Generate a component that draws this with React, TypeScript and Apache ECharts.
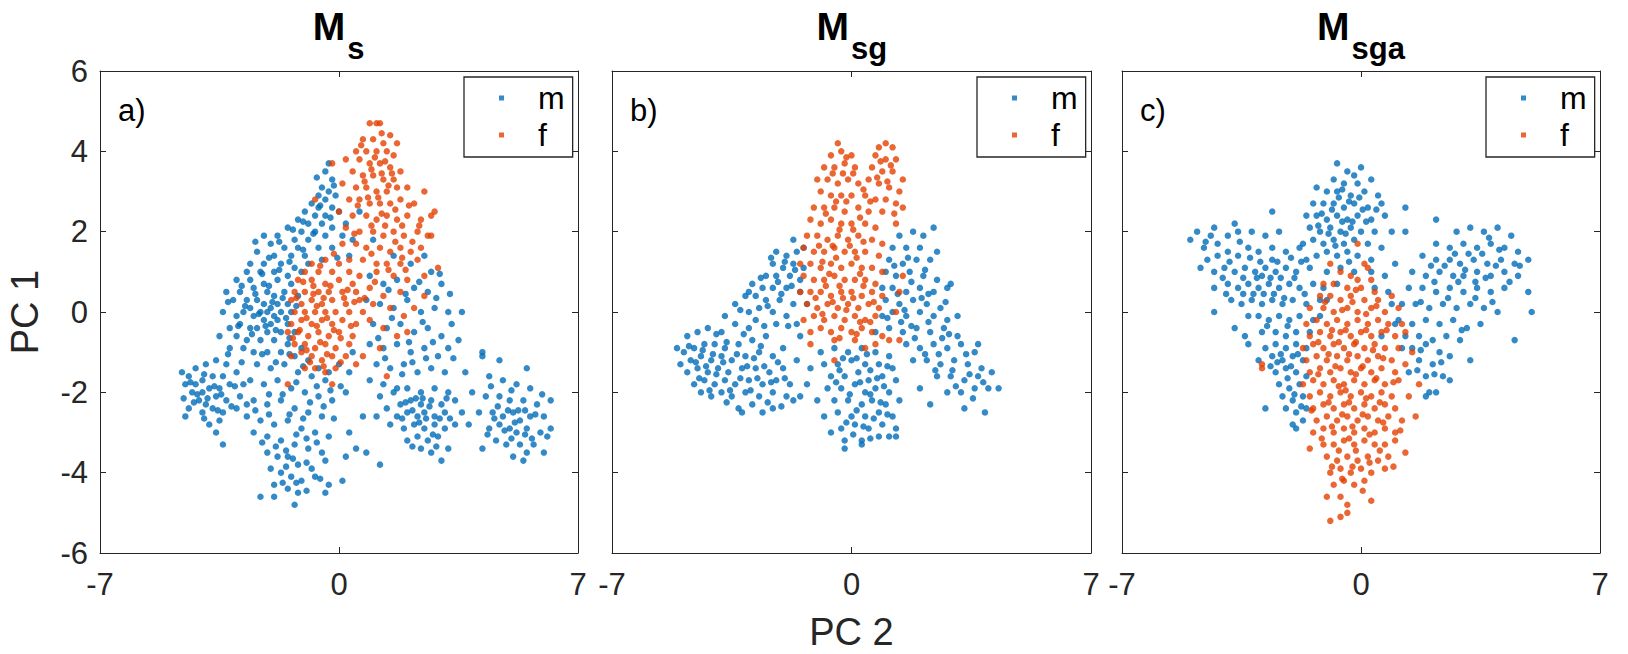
import React, { useEffect, useRef } from "react";
import * as echarts from "echarts";

// ---------- DATA (PC 2 = x, PC 1 = y), flat [x, y, x, y, ...] ----------
const xTicks = [-7, 0, 7];
const yTicks = [-6, -4, -2, 0, 2, 4, 6];
const titles = ["s", "sg", "sga"];
const panelLabels = ["a)", "b)", "c)"];
const legendNames = ["m", "f"];

// Panel a (M_s) – males
const msBlueUpper = [
  -0.3,3.7, -0.4,3.5, -0.2,3.3, -0.5,3.1, -0.3,3.0, -0.6,2.9, -0.4,2.8, -0.1,2.9, -0.8,2.7, -0.6,2.6,
  -0.2,2.6, -1.0,2.5, -0.7,2.4, -0.4,2.4, 0.0,2.5, -1.2,2.3, -0.9,2.2, -0.5,2.2, -0.2,2.1, 0.2,2.2,
  -1.5,2.1, -1.1,2.0, -0.7,2.0, -2.2,1.9, -1.8,1.9, -1.3,1.8, -0.9,1.8, -0.4,1.9, 0.1,1.9, 0.4,1.8,
  -2.0,1.7, -1.6,1.6, -1.2,1.6, -0.6,1.6, -0.2,1.6, -2.4,1.5, -1.9,1.4, -1.4,1.4, -1.0,1.4, -0.5,1.3,
  0.3,1.4, -2.6,1.2, -2.2,1.2, -1.7,1.2, -1.3,1.1, -0.9,1.2, -2.7,1.0, -2.3,1.0, -1.9,1.0, -1.5,0.9, -1.1,1.0,
];
const msBlueCoreLeft = [
  -3.0,0.8, -2.6,0.8, -2.2,0.7, -1.8,0.8, -1.4,0.7, -3.3,0.5, -2.9,0.5, -2.5,0.6, -2.1,0.5, -1.9,0.4,
  -1.6,0.5, -1.2,0.4, -3.1,0.3, -2.7,0.3, -2.4,0.3, -2.2,0.2, -2.0,0.1, -1.8,0.2, -1.5,0.2, -2.6,0.1,
  -2.3,0.0, -2.1,0.0, -1.9,-0.1, -1.7,0.0, -1.4,0.0, -3.4,0.0, -3.0,-0.1, -2.8,0.0, -2.5,-0.1, -2.2,-0.2,
  -2.0,-0.3, -1.8,-0.2, -1.5,-0.3, -3.2,-0.4, -2.9,-0.3, -2.6,-0.4, -2.4,-0.4, -2.1,-0.5, -1.7,-0.5, -1.3,-0.5,
  -3.5,-0.6, -3.0,-0.6, -2.7,-0.7, -2.3,-0.7, -1.9,-0.7, -1.5,-0.8, -1.1,-0.9, -3.2,-0.9, -2.8,-0.9, -2.5,-1.0,
  -2.1,-1.0, -1.7,-1.0, -1.3,-1.1, -0.9,-1.2, -0.6,-1.4, -0.3,-1.5, 0.0,-1.3, 0.3,-1.5, 0.4,-1.0,
];
const msBlueLowerLeft = [
  -4.6,-1.5, -4.4,-1.6, -4.2,-1.4, -3.9,-1.3, -3.6,-1.2, -3.3,-1.3, -4.5,-1.8, -4.2,-1.8, -4.0,-1.7, -3.7,-1.6,
  -3.4,-1.6, -3.0,-1.5, -4.3,-2.0, -4.0,-2.0, -3.8,-1.9, -3.5,-1.9, -3.2,-1.8, -2.8,-1.8, -4.1,-2.2, -3.9,-2.3,
  -3.6,-2.1, -3.3,-2.2, -2.9,-2.1, -4.4,-2.4, -4.0,-2.5, -3.7,-2.4, -3.4,-2.5, -3.0,-2.4, -4.5,-2.6, -3.8,-2.8,
  -3.5,-2.7, -3.6,-3.0, -3.4,-3.3, -2.7,-2.3,
];
const msBlueLowerMid = [
  -2.4,-1.3, -2.0,-1.4, -1.6,-1.3, -1.2,-1.5, -0.8,-1.6, -0.4,-1.7, -2.6,-1.7, -2.2,-1.8, -1.8,-1.7, -1.4,-1.9,
  -1.0,-2.0, -0.6,-2.1, -0.2,-2.2, 0.2,-2.0, -2.5,-2.2, -2.1,-2.3, -1.7,-2.2, -1.3,-2.4, -0.9,-2.5, -0.5,-2.6,
  -2.7,-2.6, -2.3,-2.7, -1.9,-2.8, -1.5,-2.7, -1.1,-2.9, -0.7,-3.0, -0.3,-3.1, 0.3,-3.0, -2.5,-3.0, -2.1,-3.1,
  -1.7,-3.2, -1.3,-3.3, -0.9,-3.4, -0.5,-3.5, -2.1,-3.5, -1.8,-3.6, -1.5,-3.6, -1.2,-3.8, -0.8,-3.9, -0.4,-3.7,
  0.2,-3.6, -2.0,-3.9, -1.7,-4.0, -1.4,-4.1, -1.1,-4.2, -0.7,-4.1, -1.9,-4.3, -1.5,-4.4, -1.2,-4.5, -0.4,-4.5,
  -2.3,-4.6, -1.9,-4.6, -1.3,-4.8, 0.1,-4.2, -0.3,-4.3, 0.5,-3.4, 0.7,-2.6,
];
const msBlueRightBand = [
  0.6,2.5, 1.0,1.8, 1.6,1.4, 2.1,1.2, 2.5,1.4, 2.7,1.0, 0.9,0.9, 1.3,0.7, 1.7,0.8, 2.2,0.6,
  2.6,0.5, 3.0,0.7, 0.8,0.3, 1.2,0.2, 1.6,0.1, 2.0,0.3, 2.4,0.0, 2.8,0.1, 3.2,0.0, 3.6,0.0,
  1.0,-0.3, 1.4,-0.4, 1.8,-0.3, 2.2,-0.5, 2.6,-0.4, 3.0,-0.6, 3.3,-0.3, 0.9,-0.8, 1.3,-0.9, 1.7,-0.8,
  2.1,-1.0, 2.5,-0.9, 2.9,-1.1, 3.2,-0.9, 1.1,-1.3, 1.5,-1.4, 1.9,-1.3, 2.3,-1.5, 2.7,-1.4, 3.1,-1.5,
  1.3,-1.8, 1.7,-1.9, 0.9,-1.7, 4.2,-1.0, 3.5,-0.7,
];
const msBlueRight1 = [
  1.2,-2.1, 1.6,-2.0, 2.0,-1.9, 2.4,-2.0, 2.8,-1.9, 3.2,-2.0, 1.4,-2.4, 1.8,-2.3, 2.1,-2.2, 2.4,-2.3,
  2.7,-2.2, 3.0,-2.3, 3.4,-2.2, 1.7,-2.6, 2.0,-2.5, 2.3,-2.6, 2.5,-2.5, 2.8,-2.6, 3.1,-2.5, 3.6,-2.5,
  1.9,-2.9, 2.2,-2.8, 2.5,-2.9, 2.8,-2.8, 3.1,-2.9, 3.4,-2.8, 2.0,-3.2, 2.3,-3.1, 2.6,-3.2, 2.9,-3.1,
  2.4,-3.4, 2.7,-3.5, 3.2,-3.4, 1.5,-2.8, 1.1,-2.6, 0.8,-3.5, 1.2,-3.8, 3.0,-3.7,
];
const msBlueRight2 = [
  4.2,-1.1, 3.7,-1.5, 4.4,-1.6, 4.8,-1.7, 5.2,-1.8, 5.6,-1.9, 3.9,-2.0, 4.3,-2.1, 4.7,-2.1, 5.0,-2.2,
  5.4,-2.2, 5.8,-2.3, 6.2,-2.2, 4.1,-2.5, 4.5,-2.5, 4.8,-2.6, 5.1,-2.5, 5.3,-2.7, 5.6,-2.6, 6.0,-2.6,
  4.4,-2.9, 4.7,-2.8, 5.0,-2.9, 5.2,-3.0, 5.5,-2.9, 5.9,-3.0, 4.6,-3.2, 4.9,-3.3, 5.3,-3.3, 5.7,-3.3,
  5.1,-3.6, 5.5,-3.5, 6.1,-3.1, 4.2,-3.4, 3.8,-2.8, 4.7,-1.2, 5.5,-1.4, 6.2,-2.9, 5.4,-3.7, 6.0,-3.5,
];
const msBlueFill = [
  -2.85,0.65, -2.45,0.45, -2.05,0.65, -1.65,0.35, -1.25,0.15, -2.75,0.15, -2.35,-0.05, -1.95,0.25, -1.55,-0.15, -2.15,-0.35,
  -1.85,-0.45, -2.55,-0.55, -1.45,-0.65, -2.95,-0.35, -3.25,0.25, -2.25,0.95, -1.75,1.05, -2.05,1.35, -1.45,1.25, -1.05,1.55,
  -0.75,1.95, -1.05,2.25, -0.55,2.65, -1.75,1.75, -2.45,1.75, -1.35,2.05, -0.25,2.35, -0.15,3.15, -0.65,3.35, -0.05,1.35,
  -2.25,-1.05, -1.85,-1.25, -1.45,-1.05, -1.05,-1.35, -0.65,-1.85, -1.25,-1.75, -1.65,-2.05, -2.05,-2.05, -0.85,-2.25, -1.45,-2.55,
  -2.45,-2.45, -1.05,-2.65, -2.05,-2.55, -1.25,-3.05, -0.95,-3.15, -1.55,-3.45, -0.65,-3.25, -1.85,-3.35, -1.35,-3.65, -0.95,-3.75,
  -1.55,-3.85, -1.25,-4.25, -0.95,-4.45, -1.65,-4.25, -0.15,-2.65, 0.05,-1.85, -0.25,-1.95, -0.45,-2.35, -2.25,-3.25, -0.55,-4.15,
  -4.35,-1.75, -3.95,-1.55, -3.65,-1.85, -3.85,-2.15, -4.15,-2.05, -3.45,-2.05, -3.15,-2.35, -3.95,-2.65, -4.25,-2.25, -3.55,-2.45,
  -3.05,-1.85, -4.55,-2.15, -3.25,-1.05, -2.85,-1.25,
  1.45,0.55, 1.95,0.45, 2.35,0.75, 2.85,0.35, 1.15,-0.65, 1.55,-0.15, 2.05,-0.75, 2.45,-0.25, 2.75,-0.75, 1.35,-1.15,
  2.15,-1.25, 2.55,-1.15, 3.35,-1.15, 1.85,-1.55, 2.95,0.95, 3.25,0.45,
  2.15,-2.45, 2.35,-2.75, 2.65,-2.35, 2.55,-2.65, 2.95,-2.65, 2.25,-2.15, 1.85,-2.65, 2.75,-3.05, 2.15,-3.35, 3.25,-2.65,
  2.45,-2.15, 1.95,-2.25, 3.15,-2.15, 2.85,-3.35,
  4.95,-2.45, 5.25,-2.45, 4.65,-2.35, 5.45,-2.45, 5.15,-2.75, 4.85,-2.95, 5.45,-3.05, 5.05,-3.15, 4.55,-2.65, 5.75,-2.55,
  5.05,-1.95, 4.45,-1.85, 5.95,-2.05, 5.65,-3.15, 4.35,-3.05,
];
// Panel a (M_s) – females
const msOrangeUpper = [
  0.9,4.7, 1.1,4.7, 1.2,4.7, 1.5,4.4, 1.7,4.2, 0.7,4.3, 1.0,4.3, 1.3,4.2, 0.5,4.0, 0.8,4.0,
  1.1,4.0, 1.4,4.0, 1.6,3.9, 0.2,3.8, 0.6,3.8, 0.9,3.7, 1.2,3.7, 1.5,3.6, 1.8,3.5, 0.4,3.5,
  0.7,3.4, 1.0,3.4, 1.3,3.3, 1.6,3.3, 0.1,3.2, 0.5,3.1, 0.8,3.1, 1.1,3.0, 1.4,3.0, 1.7,3.1,
  2.0,3.1, 2.5,3.0, 0.3,2.8, 0.6,2.8, 0.9,2.7, 1.2,2.7, 1.5,2.7, 1.8,2.8, 2.2,2.7, -0.2,3.7,
  -0.7,2.8, 0.0,2.5, 0.4,2.4, 0.8,2.4, 1.1,2.3, 1.4,2.4, 1.7,2.3, 2.0,2.4, 2.4,2.3, 2.7,2.4,
  0.2,2.1, 0.6,2.0, 1.0,2.0, 1.3,1.9, 1.6,2.0, 1.9,1.9, 2.3,2.0, 2.6,1.9, 0.1,1.7, 0.5,1.7,
  0.8,1.6, 1.2,1.6, 1.5,1.5, 1.8,1.6, 2.1,1.5, 2.4,1.6, 0.3,1.3, 0.7,1.3, 1.1,1.2, 1.4,1.2,
  1.8,1.2, 2.3,1.3, 2.7,1.9, 2.8,2.5,
];
const msOrangeCore = [
  -0.8,1.2, -0.4,1.3, 0.0,1.2, -1.0,1.0, -0.6,1.0, -0.2,1.0, 0.3,1.0, 0.6,0.9, -1.2,0.8, -0.8,0.8,
  -0.4,0.7, 0.0,0.8, 0.4,0.7, -1.3,0.5, -1.0,0.5, -0.6,0.5, -0.3,0.5, 0.1,0.5, 0.5,0.5, -1.4,0.3,
  -1.1,0.2, -0.8,0.3, -0.5,0.2, -0.2,0.3, 0.2,0.2, 0.6,0.3, -1.3,0.0, -1.0,0.0, -0.7,0.0, -0.4,0.0,
  -0.1,0.0, 0.3,0.0, 0.7,0.0, -1.4,-0.3, -1.1,-0.2, -0.8,-0.3, -0.5,-0.2, -0.2,-0.3, 0.1,-0.2, 0.5,-0.3,
  -1.5,-0.5, -1.2,-0.5, -0.9,-0.6, -0.6,-0.5, -0.3,-0.6, 0.0,-0.5, 0.4,-0.6, -1.3,-0.8, -1.0,-0.8, -0.7,-0.9,
  -0.4,-0.8, -0.1,-0.9, 0.3,-0.8, -1.4,-1.1, -1.1,-1.0, -0.8,-1.1, -0.5,-1.2, -0.2,-1.1, 0.2,-1.1, -1.0,-1.4,
  -0.7,-1.4, -0.4,-1.5, -0.1,-1.4, -1.5,-1.8, -0.2,-1.8, 0.5,-1.3,
];
const msOrangeScatter = [
  0.9,0.6, 1.3,0.4, 1.1,1.0, 1.6,0.9, 2.0,0.8, 2.5,0.9, 1.0,0.2, 1.5,0.1, 1.9,-0.1, 2.2,0.1,
  0.9,-0.2, 1.3,-0.4, 1.7,-0.6, 2.0,-0.5, 1.2,-0.9, 0.7,-1.1, 2.5,0.4, 1.8,0.5, 2.9,1.1, 1.4,-1.6,
];
const msOrangeFill = [
  -0.65,0.15, -0.35,-0.15, -0.95,-0.15, -0.25,0.65, -0.75,0.65, -1.15,-0.45, -0.55,-0.75, -0.85,-1.25, -0.35,-1.05, 0.05,-0.65,
  0.15,0.35, -1.25,0.35, -0.45,0.35, -0.15,-0.45, -0.65,-0.35, 0.35,-0.35, -1.05,0.75, -0.55,1.15, -0.15,1.45, 0.25,0.55,
  -1.35,-0.65, -0.95,-0.95, 0.05,-1.25, -0.45,-1.35, -0.75,0.45, 0.45,0.25,
  0.95,3.55, 1.25,3.45, 1.05,3.85, 1.35,3.75, 0.75,3.25, 1.45,3.15, 1.15,2.85, 1.65,2.55, 1.35,2.15, 1.85,2.15,
  0.95,2.15, 2.15,1.75, 1.65,1.75, 2.05,2.65, 0.55,2.65, 1.25,2.45, 0.85,2.85, 1.55,3.45, 1.85,1.35, 0.45,1.95,
  2.35,2.15, 0.95,1.45, 1.45,1.05, 0.65,4.15, 1.25,4.45, 1.95,1.05, 0.75,0.35, 1.05,0.75,
];

// Panel b (M_sg) – males
const msgBlueLeft = [
  -5.1,-0.9, -4.8,-0.6, -4.5,-0.5, -4.2,-0.4, -3.8,-0.5, -3.4,-0.3, -3.0,-0.4, -4.9,-1.0, -4.6,-0.9, -4.3,-0.8,
  -4.0,-0.8, -3.7,-0.9, -3.3,-0.8, -2.9,-0.7, -2.5,-0.6, -5.0,-1.3, -4.7,-1.2, -4.4,-1.1, -4.1,-1.2, -3.8,-1.1,
  -3.5,-1.2, -3.1,-1.1, -2.7,-1.0, -2.3,-1.1, -4.8,-1.5, -4.5,-1.4, -4.2,-1.5, -3.9,-1.4, -3.6,-1.5, -3.2,-1.4,
  -2.8,-1.4, -2.4,-1.5, -2.0,-1.4, -4.6,-1.8, -4.3,-1.7, -4.0,-1.8, -3.7,-1.7, -3.4,-1.8, -3.0,-1.7, -2.6,-1.8,
  -2.2,-1.7, -1.8,-1.8, -4.1,-2.1, -3.8,-2.0, -3.5,-2.1, -3.1,-2.0, -2.7,-2.1, -2.3,-2.0, -1.9,-2.1, -3.3,-2.4,
  -2.9,-2.3, -2.6,-2.5, -2.3,-2.4, -3.2,-2.5, -1.7,-2.2, -4.4,-2.0, -2.0,-0.9, -1.6,-1.2, -1.5,-2.1,
];
const msgBlueArm = [
  -3.4,0.2, -3.0,0.0, -2.7,0.1, -2.3,0.0, -1.9,-0.1, -1.6,-0.3, -3.1,0.4, -2.8,0.4, -2.5,0.3, -2.1,0.3,
  -1.7,0.2, -2.9,0.7, -2.6,0.6, -2.3,0.6, -1.9,0.6, -1.5,0.5, -2.5,0.9, -2.2,0.9, -1.8,0.9, -1.5,0.8,
  -2.3,1.2, -2.0,1.1, -1.7,1.2, -1.4,1.1, -2.2,1.5, -1.9,1.4, -1.6,1.5, -1.4,1.6, -1.7,1.8, -2.2,-0.3,
  -1.5,-0.6, -2.8,-0.2, -3.7,-0.1, -1.3,0.2, -3.0,0.5,
];
const msgBlueCenter = [
  -0.9,-1.0, -0.5,-0.9, -0.1,-1.0, 0.3,-0.9, 0.7,-1.0, 1.1,-1.1, -0.8,-1.3, -0.4,-1.3, 0.0,-1.2, 0.4,-1.3,
  0.8,-1.3, 1.2,-1.4, -0.6,-1.6, -0.2,-1.6, 0.2,-1.5, 0.5,-1.7, 0.9,-1.6, 1.3,-1.7, -0.7,-1.9, -0.3,-1.9,
  0.1,-1.8, 0.4,-2.0, 0.7,-1.9, 1.1,-2.0, -0.5,-2.2, -0.1,-2.2, 0.3,-2.3, 0.6,-2.2, 1.0,-2.3, 1.4,-2.2,
  -0.4,-2.5, 0.0,-2.6, 0.4,-2.6, 0.8,-2.5, 1.2,-2.6, -0.3,-2.9, 0.1,-2.8, 0.5,-2.9, 0.9,-2.8, 1.3,-2.9,
  -0.2,-3.2, 0.3,-3.2, 0.8,-3.1, -0.2,-3.4, 0.3,-3.3, 1.3,-3.1, -1.2,-1.4, -1.0,-2.2, -0.8,-2.6, -1.3,-1.8,
  -0.6,-3.0, 1.1,-3.1,
];
const msgBlueRight = [
  1.4,1.9, 1.8,2.0, 2.1,1.9, 2.4,2.1, 2.5,1.5, 1.2,1.6, 1.6,1.6, 2.0,1.6, 2.3,1.3, 1.1,1.3,
  1.5,1.2, 1.9,1.3, 1.0,1.0, 1.3,0.9, 1.7,1.0, 2.1,0.9, 2.5,0.8, 0.9,0.6, 1.2,0.6, 1.6,0.5,
  2.0,0.6, 2.4,0.5, 2.8,0.6, 1.0,0.3, 1.4,0.2, 1.8,0.3, 2.2,0.2, 2.6,0.1, 0.9,-0.1, 1.2,0.0,
  1.6,-0.1, 2.0,0.0, 2.4,-0.1, 2.8,-0.2, 3.1,-0.1, 0.7,-0.5, 1.1,-0.4, 1.5,-0.5, 1.9,-0.4, 2.3,-0.5,
  2.7,-0.4, 3.1,-0.6, 1.6,-0.8, 2.0,-0.9, 2.4,-0.8, 2.8,-0.9, 3.2,-0.8, 3.6,-1.0, 1.8,-1.2, 2.2,-1.2,
  2.6,-1.3, 3.0,-1.2, 3.4,-1.3, 3.8,-1.4, 2.5,-1.6, 2.9,-1.6, 3.3,-1.7, 3.7,-1.6, 4.1,-1.5, 2.8,-2.0,
  3.2,-2.0, 3.6,-1.9, 4.0,-1.9, 4.3,-1.9, 3.3,-2.4, 3.9,-2.5, 2.3,-2.3, 2.0,-1.9, 2.9,0.7, 3.7,-0.8,
];
const msgBlueFill = [
  -4.35,-0.95, -4.05,-1.05, -3.75,-1.25, -4.25,-1.35, -3.95,-1.55, -4.55,-1.25, -3.65,-0.75, -3.35,-1.05, -3.05,-1.35, -4.45,-1.65,
  -3.55,-1.95, -4.15,-1.95, -2.85,-1.15, -2.55,-1.35, -3.25,-1.65, -2.75,-1.65, -2.35,-1.75, -4.75,-0.85, -3.95,-0.55, -3.15,-0.55,
  -2.65,-0.85, -2.15,-1.25, -1.95,-1.65, -2.95,-1.95, -2.45,-2.25, -3.65,-2.25, -2.05,-2.35,
  -2.65,0.85, -2.05,0.45, -1.75,0.65, -2.45,0.15, -2.15,0.75, -1.95,1.25, -1.85,-0.35, -2.55,-0.35, -3.25,0.05, -1.65,1.05,
  -2.35,1.35,
  0.15,-1.15, 0.55,-1.45, -0.35,-1.45, 0.25,-1.75, 0.75,-1.65, -0.05,-2.05, 0.55,-2.05, 0.15,-2.45, 0.85,-2.25, -0.15,-2.75,
  0.35,-2.85, 0.65,-2.65, 1.05,-2.55, 0.05,-3.05, 0.55,-3.15, -0.45,-1.75, 1.05,-1.35, 0.95,-1.85, -0.25,-1.15, 0.45,-1.05,
  1.45,-0.25, 1.85,-0.65, 2.25,-0.25, 2.65,-0.65, 2.15,-1.05, 2.55,-1.05, 2.95,-1.45, 3.45,-1.55, 1.35,0.45, 1.75,0.75,
  2.25,0.45, 1.55,0.05, 2.05,0.35, 2.85,-0.55, 3.35,-1.05, 3.85,-1.75, 3.05,-1.85, 3.55,-2.15, 1.65,1.35, 2.15,1.05,
  1.25,1.15, 1.75,-0.35, 2.45,-1.45, 2.75,0.25, 1.05,-0.15,
];
// Panel b (M_sg) – females
const msgOrangeUpper = [
  -0.4,4.2, 1.0,4.2, 1.2,4.1, 0.8,4.1, -0.6,3.9, -0.3,4.0, 0.0,3.9, 0.7,3.9, 1.0,3.8, 1.3,3.8,
  -0.8,3.6, -0.5,3.6, -0.2,3.7, 0.1,3.6, 0.6,3.6, 0.9,3.5, 1.2,3.5, 1.5,3.3, -1.0,3.3, -0.7,3.3,
  -0.4,3.2, -0.1,3.3, 0.2,3.2, 0.5,3.3, 0.8,3.2, 1.1,3.1, 1.4,3.0, -0.9,3.0, -0.6,2.9, -0.3,2.9,
  0.0,2.9, 0.4,2.9, 0.7,2.8, 1.0,2.8, 1.3,2.7, -1.1,2.6, -0.8,2.6, -0.5,2.6, -0.2,2.5, 0.2,2.6,
  0.5,2.5, 0.9,2.5, 1.5,2.6, -1.2,2.3, -0.9,2.2, -0.6,2.3, -0.3,2.2, 0.0,2.2, 0.4,2.2, 0.7,2.1,
  1.3,2.2, -1.3,1.9, -1.0,1.9, -0.7,1.8, -0.4,1.9, -0.1,1.8, 0.2,1.9, 0.6,1.8, 0.9,1.7,
];
const msgOrangeLower = [
  -1.4,1.6, -1.1,1.5, -0.8,1.5, -0.5,1.6, -0.2,1.5, 0.1,1.5, 0.4,1.5, 0.8,1.4, -1.5,1.2, -1.2,1.2,
  -0.9,1.1, -0.6,1.2, -0.3,1.1, 0.0,1.2, 0.3,1.1, 0.6,1.1, 0.9,1.0, -1.4,0.9, -1.1,0.8, -0.8,0.8,
  -0.5,0.9, -0.2,0.8, 0.1,0.8, 0.4,0.8, 0.7,0.7, -1.5,0.5, -1.2,0.5, -0.9,0.5, -0.6,0.4, -0.3,0.5,
  0.0,0.5, 0.3,0.4, 0.6,0.5, 0.9,0.4, -1.3,0.2, -1.0,0.1, -0.7,0.2, -0.4,0.1, -0.1,0.2, 0.2,0.1,
  0.5,0.2, 0.8,0.1, -1.4,-0.2, -1.1,-0.1, -0.8,-0.2, -0.5,-0.1, -0.2,-0.2, 0.1,-0.1, 0.4,-0.2, 0.7,-0.1,
  -1.2,-0.5, -0.9,-0.4, -0.6,-0.5, -0.3,-0.4, 0.0,-0.5, 0.3,-0.4, 0.6,-0.5, 0.9,-0.6, -1.2,-0.8, -0.5,-0.7,
  0.1,-0.7, 0.4,-0.9, 0.7,-0.8, -0.5,-1.2, 1.4,-0.7, 1.1,-0.7, 1.3,0.0, 1.5,0.9, 1.4,0.5,
];
const msgOrangeFill = [
  -0.55,3.45, -0.25,3.45, 0.05,3.45, 0.85,3.75, 1.15,3.65, 0.35,3.05, -0.45,2.75, -0.15,2.75, 0.25,2.35, 0.55,2.75,
  -0.75,2.45, 0.05,2.05, -0.35,2.05, -0.55,1.65, -0.05,1.65, 0.35,1.75, -0.85,1.25, -0.45,1.35, 0.15,1.35, -0.65,0.95,
  -0.35,0.65, 0.25,0.95, 0.05,0.35, -0.25,0.35, -0.55,0.25, 0.35,0.65, 0.65,0.25, -0.85,-0.05, -0.35,-0.65, 0.25,-0.25,
  -0.15,0.05, -1.05,0.35, -0.75,0.65, 0.15,-0.55, 0.55,-0.25, -0.95,1.65, 0.75,3.35, 1.05,3.25, -0.15,3.85, 1.25,2.45,
];

// Panel c (M_sga) – males
const msgaBlueLeft = [
  -5.0,1.8, -4.8,2.0, -4.6,1.6, -4.4,1.9, -4.2,1.7, -3.9,1.9, -3.6,2.0, -3.2,2.0, -2.8,1.9, -2.4,2.0,
  -4.5,1.3, -4.2,1.4, -3.9,1.5, -3.6,1.4, -3.3,1.6, -3.0,1.5, -2.6,1.6, -2.2,1.5, -1.8,1.6, -4.3,1.0,
  -4.0,1.1, -3.7,1.0, -3.4,1.1, -3.1,1.0, -2.8,1.1, -2.5,1.0, -2.2,1.1, -1.9,1.0, -1.5,1.1, -4.3,0.6,
  -3.9,0.7, -3.6,0.6, -3.3,0.7, -3.0,0.6, -2.7,0.7, -2.4,0.6, -2.1,0.7, -1.8,0.6, -1.4,0.7, -3.8,0.3,
  -3.5,0.2, -3.2,0.3, -2.9,0.2, -2.6,0.3, -2.3,0.2, -2.0,0.3, -1.6,0.2, -1.2,0.3, -4.3,0.0, -3.3,-0.1,
  -3.0,-0.1, -2.7,-0.2, -2.4,-0.1, -2.1,-0.2, -1.8,-0.1, -1.4,-0.2, -3.7,-0.4, -3.4,-0.6, -2.9,-0.5, -2.5,-0.5,
  -2.2,-0.6, -1.9,-0.5, -1.5,-0.5, -2.6,1.3, -2.9,0.9, -4.7,1.1, -3.7,2.2, -4.3,2.1,
];
const msgaBlueTop = [
  -0.7,3.7, 0.0,3.6, -0.4,3.5, -0.2,3.4, -0.8,3.3, -1.3,3.1, -0.5,3.2, -0.1,3.2, 0.3,3.3, -1.0,3.0,
  -0.7,3.0, -0.3,2.9, 0.1,3.0, 0.5,2.9, -1.4,2.7, -1.1,2.7, -0.8,2.7, -0.5,2.6, -0.2,2.7, 0.2,2.6,
  0.6,2.7, -1.6,2.4, -1.3,2.4, -1.0,2.3, -0.7,2.4, -0.4,2.3, -0.1,2.4, 0.3,2.3, 0.7,2.4, 1.3,2.6,
  -1.5,2.1, -1.2,2.0, -0.9,2.1, -0.6,2.0, -0.3,2.1, 0.0,2.0, 0.4,2.0, 0.9,2.0, 1.3,2.0, -1.7,1.7,
  -1.4,1.8, -1.1,1.7, -0.8,1.8, -0.5,1.7, -0.2,1.8, 0.2,1.7, 0.6,1.6, -1.3,1.4, -1.0,1.5, -0.7,1.4,
  -0.4,1.5, -0.1,1.4, 0.3,1.3, 2.2,2.3, -2.6,2.5, -1.6,1.3,
];
const msgaBlueRight = [
  2.8,2.0, 3.2,2.1, 3.6,2.0, 4.0,2.1, 4.4,1.9, 2.2,1.7, 2.6,1.6, 3.0,1.7, 3.4,1.6, 3.8,1.7,
  4.2,1.6, 4.6,1.5, 1.8,1.4, 2.2,1.3, 2.6,1.3, 2.9,1.2, 3.3,1.3, 3.7,1.2, 4.1,1.3, 4.5,1.2,
  4.9,1.3, 1.5,1.0, 1.9,0.9, 2.3,1.0, 2.7,0.9, 3.0,0.9, 3.4,1.0, 3.8,0.9, 4.2,1.0, 4.6,0.9,
  1.4,0.6, 1.8,0.6, 2.2,0.5, 2.6,0.6, 3.0,0.5, 3.4,0.6, 3.8,0.5, 4.2,0.6, 4.9,0.5, 1.2,0.2,
  1.6,0.2, 2.0,0.1, 2.4,0.2, 2.8,0.1, 3.2,0.2, 3.6,0.1, 4.0,0.0, 5.0,0.0, 1.1,-0.2, 1.5,-0.3,
  1.9,-0.2, 2.3,-0.3, 2.7,-0.2, 3.1,-0.4, 3.5,-0.3, 1.3,-0.6, 1.7,-0.6, 2.1,-0.7, 2.5,-0.6, 2.9,-0.7,
  4.5,-0.7, 3.2,-1.2,
];
const msgaBlueBridge = [
  -1.0,1.0, -0.6,1.1, -0.2,1.0, 0.3,1.0, 0.7,0.9, 1.0,1.2, -1.1,0.6, -0.7,0.7, 0.4,0.6, 0.8,0.5,
  -1.0,0.3, 0.9,0.2, -1.2,-0.1, 1.0,-0.3, 0.6,-0.6, 1.2,-0.9,
  -2.8,-0.9, -2.5,-0.8, -2.2,-0.9, -1.9,-0.8, -1.6,-0.9, -2.6,-1.1, -2.3,-1.2, -2.0,-1.1, -1.7,-1.2, -2.5,-1.5,
  -2.2,-1.4, -1.9,-1.5, -1.6,-1.6, -2.4,-1.8, -2.1,-1.9, -1.8,-1.8, -2.3,-2.1, -2.0,-2.2, -1.7,-2.1, -2.2,-2.4,
  -1.9,-2.5, -1.6,-2.4, -2.8,-2.4, -2.0,-2.8, -1.9,-2.9, -1.7,-2.7, -3.0,-1.2, -3.3,-0.8,
  1.5,-0.9, 1.9,-0.8, 2.3,-1.0, 2.6,-1.1, 1.7,-1.2, 2.1,-1.3, 1.9,-1.6, 2.4,-1.6, 2.6,-1.7, 2.0,-2.0,
  2.2,-2.0, 1.9,-2.1, 1.4,-1.5,
];
const msgaBlueFill = [
  -3.45,0.85, -3.05,0.85, -2.65,0.85, -2.35,0.85, -2.95,1.25, -3.25,1.35, -2.45,1.25, -2.85,0.45, -2.55,0.45, -3.15,0.45,
  -2.25,0.35, -1.95,0.85, -3.85,1.25, -4.05,0.85, -3.55,1.75, -4.55,1.75, -2.05,1.35, -1.65,0.45, -2.75,-0.35, -3.45,0.45,
  -1.75,1.25, -3.95,0.45, -2.15,-0.35,
  -0.55,2.25, -0.25,2.25, -0.85,2.55, -0.35,2.75, 0.05,2.55, -0.65,2.85, -1.15,2.45, -0.95,1.95, -0.45,1.95, 0.15,2.25,
  -0.55,3.05, -0.05,2.85, 0.45,2.55, -1.25,2.15, -0.75,1.65, -0.35,1.25,
  3.05,1.05, 3.35,0.75, 2.85,0.75, 3.65,0.85, 3.15,1.45, 2.45,1.15, 3.95,1.15, 2.75,1.45, 3.55,1.45, 2.15,0.75,
  4.35,0.75, 2.55,0.35, 3.35,0.35, 4.05,1.55, 2.05,1.15, 1.75,0.25, 2.95,-0.45, 3.85,0.25, 4.65,1.15, 3.75,1.85,
  -2.35,-1.05, -2.05,-1.35, -2.15,-1.65, -1.95,-2.05, -2.45,-1.25, -1.85,-1.05, -2.65,-1.35, -1.75,-2.35, 1.75,-0.95, 2.15,-1.55,
  2.35,-1.25, 1.65,-1.45,
];
// Panel c (M_sga) – females
const msgaOrangeTop = [
  -0.1,1.7, -0.9,1.2, 0.1,1.2, 0.2,1.1, -0.3,0.9, -0.6,1.0, -0.1,0.8, 0.3,0.8, -1.1,0.7, -0.8,0.7,
  -0.4,0.6, 0.0,0.6, 0.4,0.5, -1.2,0.4, -0.9,0.4, -0.6,0.3, -0.3,0.4, 0.1,0.3, 0.5,0.3, 0.9,0.4,
  -1.5,0.1, -1.1,0.1, -0.8,0.0, -0.4,0.1, -0.1,0.0, 0.3,0.1, 0.7,0.0, 1.1,0.1,
];
const msgaOrangeMid = [
  -1.6,-0.3, -1.3,-0.2, -1.0,-0.3, -0.7,-0.2, -0.4,-0.3, -0.1,-0.2, 0.2,-0.3, 0.5,-0.2, 0.8,-0.3, 1.2,-0.3,
  -1.5,-0.6, -1.2,-0.5, -0.9,-0.6, -0.6,-0.5, -0.3,-0.6, 0.0,-0.5, 0.3,-0.6, 0.6,-0.5, 1.0,-0.6, 1.3,-0.5,
  -1.7,-0.9, -1.4,-0.8, -1.1,-0.9, -0.8,-0.8, -0.5,-0.9, -0.2,-0.8, 0.1,-0.9, 0.4,-0.8, 0.7,-0.9, 1.1,-0.9,
  1.5,-1.0, -1.6,-1.2, -1.3,-1.1, -1.0,-1.2, -0.7,-1.1, -0.4,-1.2, -0.1,-1.1, 0.2,-1.2, 0.5,-1.1, 0.9,-1.2,
  1.3,-1.3, -2.9,-1.3, -2.9,-1.4, -1.5,-1.5, -1.2,-1.4, -0.9,-1.5, -0.6,-1.4, -0.3,-1.5, 0.0,-1.4, 0.3,-1.5,
  0.6,-1.4, 1.0,-1.5,
];
const msgaOrangeLow = [
  -1.7,-1.8, -1.4,-1.7, -1.1,-1.8, -0.8,-1.7, -0.5,-1.8, -0.2,-1.7, 0.1,-1.8, 0.4,-1.7, 0.7,-1.8, 1.1,-1.7,
  1.7,-1.8, -1.5,-2.1, -1.2,-2.0, -0.9,-2.1, -0.6,-2.0, -0.3,-2.1, 0.0,-2.0, 0.3,-2.1, 0.6,-2.0, 0.9,-2.1,
  1.4,-2.1, -1.4,-2.4, -1.1,-2.3, -0.8,-2.4, -0.5,-2.3, -0.2,-2.4, 0.1,-2.3, 0.4,-2.4, 0.7,-2.3, 1.0,-2.4,
  -1.3,-2.7, -1.0,-2.6, -0.7,-2.7, -0.4,-2.6, -0.1,-2.7, 0.2,-2.6, 0.5,-2.7, 0.8,-2.6, 1.2,-2.7, 1.6,-2.6,
  -1.4,-3.0, -1.1,-2.9, -0.8,-3.0, -0.5,-2.9, -0.2,-3.0, 0.1,-2.9, 0.4,-3.0, 0.7,-2.9, 1.0,-3.0, -1.5,-3.4,
  -1.1,-3.3, -0.8,-3.3, -0.5,-3.2, -0.2,-3.3, 0.1,-3.2, 0.4,-3.3, 0.7,-3.3, 1.0,-3.2, 1.3,-3.5,
];
const msgaOrangeTail = [
  -1.0,-3.6, -0.7,-3.7, -0.4,-3.6, -0.1,-3.7, 0.2,-3.6, 0.5,-3.7, 0.8,-3.6, -0.9,-4.0, -0.6,-3.9, -0.3,-4.0,
  0.0,-3.9, 0.3,-4.0, 0.7,-3.9, -0.8,-4.3, -0.5,-4.2, -0.2,-4.3, 0.1,-4.2, -1.0,-4.6, -0.6,-4.6, -0.4,-4.8,
  0.3,-4.7, -0.4,-5.0, -0.9,-5.2, -0.6,-5.1,
];
const msgaOrangeFill = [
  -0.25,0.25, -0.55,0.05, 0.15,-0.05, -0.85,-0.45, -0.45,-0.45, 0.15,-0.45, -0.15,-0.75, -0.65,-0.75, 0.35,-0.95, -1.25,-0.75,
  -0.95,-1.05, -0.35,-1.05, 0.05,-1.35, 0.65,-1.15, -0.75,-1.35, -0.15,-1.55, 0.45,-1.65, -1.25,-1.55, -0.65,-1.85, 0.15,-2.15,
  -0.35,-2.25, -0.95,-2.25, 0.55,-2.25, -0.55,-2.55, 0.05,-2.55, 0.65,-2.75, -0.25,-2.85, -0.85,-2.85, 0.25,-3.05, -0.35,-3.15,
  0.55,-3.45, -0.15,-3.45, -0.65,-3.45, 0.25,-3.75, -0.25,-3.85, -0.55,-4.15, 0.05,-4.45, -0.85,-3.85, 0.95,-3.85, 1.15,-2.95,
  -1.15,-3.15, 0.95,-1.75, -1.45,-2.45, 0.75,-0.45, -1.05,0.25, 0.45,0.15, -0.15,0.55, -0.45,-1.95,
];

const msBlue = [...msBlueUpper, ...msBlueCoreLeft, ...msBlueLowerLeft, ...msBlueLowerMid, ...msBlueRightBand, ...msBlueRight1, ...msBlueRight2, ...msBlueFill];
const msOrange = [...msOrangeUpper, ...msOrangeCore, ...msOrangeScatter, ...msOrangeFill];
const msgBlue = [...msgBlueLeft, ...msgBlueArm, ...msgBlueCenter, ...msgBlueRight, ...msgBlueFill];
const msgOrange = [...msgOrangeUpper, ...msgOrangeLower, ...msgOrangeFill];
const msgaBlue = [...msgaBlueLeft, ...msgaBlueTop, ...msgaBlueRight, ...msgaBlueBridge, ...msgaBlueFill];
const msgaOrange = [...msgaOrangeTop, ...msgaOrangeMid, ...msgaOrangeLow, ...msgaOrangeTail, ...msgaOrangeFill];

const blueSets = [msBlue, msgBlue, msgaBlue];
const orangeSets = [msOrange, msgOrange, msgaOrange];

// ---------- STYLE / LAYOUT ----------
const FONT = "'Liberation Sans', Arial, Helvetica, sans-serif";
const BLUE = "#006DB8";
const ORANGE = "#E54000";
const AXIS = "#262626";
const W = 1628;
const H = 654;
const TOP = 71;
const PH = 482;
const panelLeft = [100, 612, 1122];
const panelWidth = [478, 479, 478];
const DOT = 6.5;

function toPairs(flat: number[]): number[][] {
  const out: number[][] = [];
  for (let i = 0; i + 1 < flat.length; i += 2) out.push([flat[i], flat[i + 1]]);
  return out;
}

function buildOption() {
  const grid: any[] = [];
  const xAxis: any[] = [];
  const yAxis: any[] = [];
  const series: any[] = [];
  const legend: any[] = [];
  const graphic: any[] = [];
  const line = { lineStyle: { color: AXIS, width: 1 } };

  for (let i = 0; i < 3; i++) {
    const left = panelLeft[i];
    const width = panelWidth[i];
    grid.push({ left, top: TOP, width, height: PH, containLabel: false });
    xAxis.push({
      gridIndex: i, type: "value", min: xTicks[0], max: xTicks[xTicks.length - 1], interval: 7, position: "bottom",
      axisLine: { show: true, onZero: false, ...line },
      axisTick: { show: true, inside: true, length: 6, ...line },
      axisLabel: { show: true, fontSize: 31, color: AXIS, fontFamily: FONT, margin: 16 },
      splitLine: { show: false },
    });
    xAxis.push({
      gridIndex: i, type: "value", min: xTicks[0], max: xTicks[xTicks.length - 1], interval: 7, position: "top",
      axisLine: { show: true, onZero: false, ...line },
      axisTick: { show: true, inside: true, length: 6, ...line },
      axisLabel: { show: false },
      splitLine: { show: false },
    });
    yAxis.push({
      gridIndex: i, type: "value", min: yTicks[0], max: yTicks[yTicks.length - 1], interval: 2, position: "left",
      axisLine: { show: true, onZero: false, ...line },
      axisTick: { show: true, inside: true, length: 6, ...line },
      axisLabel: { show: i === 0, fontSize: 31, color: AXIS, fontFamily: FONT, margin: 12 },
      splitLine: { show: false },
    });
    yAxis.push({
      gridIndex: i, type: "value", min: yTicks[0], max: yTicks[yTicks.length - 1], interval: 2, position: "right",
      axisLine: { show: true, onZero: false, ...line },
      axisTick: { show: true, inside: true, length: 6, ...line },
      axisLabel: { show: false },
      splitLine: { show: false },
    });
    series.push({
      type: "scatter", name: legendNames[0], xAxisIndex: 2 * i, yAxisIndex: 2 * i,
      data: toPairs(blueSets[i]), symbol: "circle", symbolSize: DOT,
      itemStyle: { color: BLUE }, silent: true, z: 2,
    });
    series.push({
      type: "scatter", name: legendNames[1], xAxisIndex: 2 * i, yAxisIndex: 2 * i,
      data: toPairs(orangeSets[i]), symbol: "circle", symbolSize: DOT,
      itemStyle: { color: ORANGE }, silent: true, z: 3,
    });
    legend.push({
      data: legendNames, orient: "vertical", left: left + width - 114, top: TOP + 6,
      icon: "rect", itemWidth: 5, itemHeight: 5, itemGap: 5,
      padding: [5, 8, 6, 35],
      borderColor: AXIS, borderWidth: 1.3, backgroundColor: "#fff",
      selectedMode: false,
      textStyle: { fontSize: 32, color: "#000", fontFamily: FONT, padding: [0, 0, 0, 29] },
    });
    graphic.push({
      type: "text", left: left + 18, top: TOP + 24, z: 10,
      style: { text: panelLabels[i], fontSize: 31, fontFamily: FONT, fill: "#000" },
    });
    const sub = titles[i];
    const mW = 32.5;
    const subW = sub.length * 17.8;
    const total = mW + 2 + subW;
    const cx = left + width / 2;
    const x0 = cx - total / 2;
    graphic.push({
      type: "text", x: x0, y: 26.4, z: 10,
      style: { text: "M", fontSize: 39, fontWeight: "bold", fontFamily: FONT, fill: "#000", align: "left", verticalAlign: "middle" },
    });
    graphic.push({
      type: "text", x: x0 + mW + 2, y: 48.2, z: 10,
      style: { text: sub, fontSize: 31, fontWeight: "bold", fontFamily: FONT, fill: "#000", align: "left", verticalAlign: "middle" },
    });
  }
  graphic.push({
    type: "text", x: 25, y: TOP + PH / 2, rotation: Math.PI / 2, z: 10,
    style: { text: "PC 1", fontSize: 38, fontFamily: FONT, fill: AXIS, align: "center", verticalAlign: "middle" },
  });
  graphic.push({
    type: "text", x: panelLeft[1] + panelWidth[1] / 2, y: 632, z: 10,
    style: { text: "PC 2", fontSize: 38, fontFamily: FONT, fill: AXIS, align: "center", verticalAlign: "middle" },
  });

  return {
    animation: false,
    backgroundColor: "#ffffff",
    textStyle: { fontFamily: FONT },
    grid, xAxis, yAxis, series, legend, graphic,
  };
}

export default function App() {
  const ref = useRef<HTMLDivElement>(null);
  useEffect(() => {
    document.body.style.margin = "0";
    if (!ref.current) return;
    const chart = echarts.init(ref.current, undefined, { renderer: "svg", width: W, height: H });
    chart.setOption(buildOption());
    return () => chart.dispose();
  }, []);
  return <div ref={ref} style={{ position: "absolute", left: 0, top: 0, width: W, height: H, background: "#fff" }} />;
}
